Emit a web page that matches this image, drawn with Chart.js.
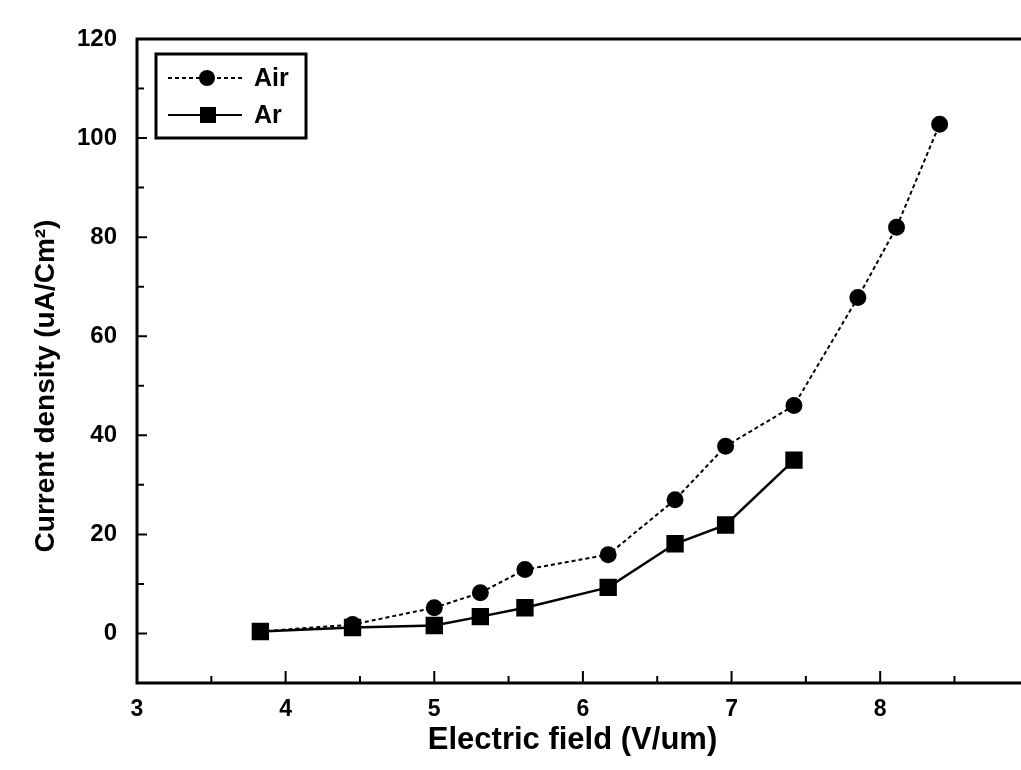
<!DOCTYPE html>
<html>
<head>
<meta charset="utf-8">
<script src="https://cdn.jsdelivr.net/npm/chart.js@4/dist/chart.umd.min.js"></script>
<style>
  html, body { margin: 0; padding: 0; background: #fff; }
  #wrap { width: 1021px; height: 770px; }
</style>
</head>
<body>
<div id="wrap"><canvas id="myChart" width="1021" height="770"></canvas></div>
<script>
// data
const airField = [3.83, 4.45, 5.0, 5.31, 5.61, 6.17, 6.62, 6.96, 7.42, 7.85, 8.11, 8.40];
const airCurrent = [0.4, 1.8, 5.2, 8.2, 12.9, 15.9, 27.0, 37.8, 46.0, 67.8, 82.0, 102.8];
const arField = [3.83, 4.45, 5.0, 5.31, 5.61, 6.17, 6.62, 6.96, 7.42];
const arCurrent = [0.4, 1.2, 1.6, 3.4, 5.2, 9.3, 18.1, 21.9, 35.0];

const xTicks = [3, 4, 5, 6, 7, 8];
const xMinorTicks = [3.5, 4.5, 5.5, 6.5, 7.5, 8.5];
const yTicks = [0, 20, 40, 60, 80, 100, 120];
const yMinorTicks = [-10, 10, 30, 50, 70, 90, 110];

const seriesNames = ['Air', 'Ar'];
const xTitle = 'Electric field (V/um)';
const yTitle = 'Current density (uA/Cm\u00B2)';

const FONT = '"Liberation Sans", Arial, sans-serif';
const ctx = document.getElementById('myChart').getContext('2d');

function toPoints(xs, ys) {
    return xs.map((x, i) => ({ x: x, y: ys[i] }));
}

// frame, inward ticks, y title and legend
const framePlugin = {
    id: 'frame',
    beforeDatasetsDraw(chart) {
        const { ctx, chartArea: a, scales } = chart;
        const xs = scales.x, ys = scales.y;
        ctx.save();
        ctx.strokeStyle = '#000';
        ctx.lineWidth = 3;
        ctx.beginPath();
        ctx.moveTo(chart.width + 5, a.top);
        ctx.lineTo(a.left, a.top);
        ctx.lineTo(a.left, a.bottom);
        ctx.lineTo(chart.width + 5, a.bottom);
        ctx.stroke();

        ctx.lineWidth = 2;
        ctx.beginPath();
        xTicks.forEach(v => {
            const px = xs.getPixelForValue(v);
            ctx.moveTo(px, a.bottom); ctx.lineTo(px, a.bottom - 12);
        });
        xMinorTicks.forEach(v => {
            const px = xs.getPixelForValue(v);
            ctx.moveTo(px, a.bottom); ctx.lineTo(px, a.bottom - 7);
        });
        yTicks.forEach(v => {
            const py = ys.getPixelForValue(v);
            ctx.moveTo(a.left, py); ctx.lineTo(a.left + 10, py);
        });
        yMinorTicks.forEach(v => {
            const py = ys.getPixelForValue(v);
            ctx.moveTo(a.left, py); ctx.lineTo(a.left + 7, py);
        });
        ctx.stroke();

        // y title
        ctx.translate(46, 386);
        ctx.rotate(-Math.PI / 2);
        ctx.fillStyle = '#000';
        ctx.font = 'bold 28px ' + FONT;
        ctx.textAlign = 'center';
        ctx.textBaseline = 'middle';
        ctx.fillText(yTitle, 0, 0);
        ctx.restore();
    },
    afterDraw(chart) {
        const { ctx } = chart;
        ctx.save();
        ctx.strokeStyle = '#000';
        ctx.lineWidth = 3;
        ctx.strokeRect(156, 54, 150, 84);
        chart.data.datasets.forEach((ds, i) => {
            const y = 78 + i * 37;
            ctx.lineWidth = 2;
            ctx.setLineDash(ds.borderDash || []);
            ctx.beginPath();
            ctx.moveTo(168, y); ctx.lineTo(242, y);
            ctx.stroke();
            ctx.setLineDash([]);
            ctx.fillStyle = '#000';
            if (ds.pointStyle === 'rect') {
                ctx.fillRect(200, y - 8, 16, 16);
            } else {
                ctx.beginPath();
                ctx.arc(207, y, 8, 0, Math.PI * 2);
                ctx.fill();
            }
            ctx.font = 'bold 25px ' + FONT;
            ctx.textBaseline = 'middle';
            ctx.fillText(ds.label, 254, y + 1);
        });
        ctx.restore();
    }
};

const myChart = new Chart(ctx, {
    type: 'scatter',
    data: {
        datasets: [{
            label: seriesNames[0],
            data: toPoints(airField, airCurrent),
            showLine: true,
            borderColor: '#000',
            backgroundColor: '#000',
            borderWidth: 2,
            borderDash: [4, 3],
            pointStyle: 'circle',
            pointRadius: 7.5,
            pointHoverRadius: 7.5
        }, {
            label: seriesNames[1],
            data: toPoints(arField, arCurrent),
            showLine: true,
            borderColor: '#000',
            backgroundColor: '#000',
            borderWidth: 2.5,
            pointStyle: 'rect',
            pointRadius: 10.5,
            pointHoverRadius: 10.5
        }]
    },
    options: {
        responsive: false,
        animation: false,
        events: [],
        layout: { padding: { left: 0, right: 0, top: 39, bottom: 0 } },
        plugins: { legend: { display: false }, tooltip: { enabled: false } },
        scales: {
            x: {
                type: 'linear',
                min: 3,
                max: 8.86,
                border: { display: false },
                grid: { display: false, drawTicks: false, tickLength: 0 },
                afterBuildTicks: s => { s.ticks = xTicks.map(v => ({ value: v })); },
                afterFit: s => { s.height = 87; s.paddingLeft = 0; s.paddingRight = 0; },
                ticks: {
                    autoSkip: false,
                    maxRotation: 0,
                    padding: 13,
                    color: '#000',
                    font: { family: FONT, size: 23, weight: 'bold' }
                },
                title: {
                    display: true,
                    text: xTitle,
                    color: '#000',
                    font: { family: FONT, size: 31, weight: 'bold' },
                    padding: { top: 0, bottom: 11 }
                }
            },
            y: {
                type: 'linear',
                min: -10,
                max: 120,
                border: { display: false },
                grid: { display: false, drawTicks: false, tickLength: 0 },
                afterBuildTicks: s => { s.ticks = yTicks.map(v => ({ value: v })); },
                afterFit: s => { s.width = 137; s.paddingTop = 0; s.paddingBottom = 0; },
                ticks: {
                    autoSkip: false,
                    padding: 20,
                    color: '#000',
                    font: { family: FONT, size: 24, weight: 'bold' }
                }
            }
        }
    },
    plugins: [framePlugin]
});
</script>
</body>
</html>
